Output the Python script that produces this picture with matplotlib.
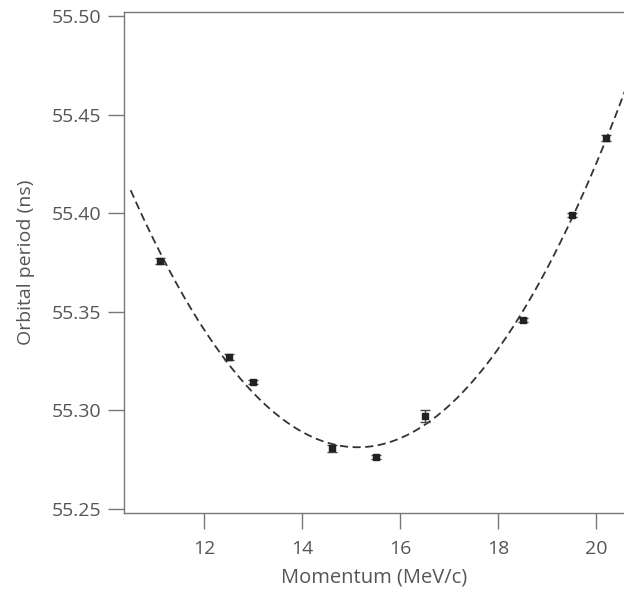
import matplotlib
matplotlib.use('Agg')
import matplotlib.pyplot as plt
import numpy as np

# Measured orbital period vs momentum
momentum = [11.1, 12.5, 13.0, 14.6, 15.5, 16.5, 18.5, 19.5, 20.2]
period = [55.3758, 55.3271, 55.3144, 55.2809, 55.2764, 55.2972, 55.3458, 55.3991, 55.4381]
period_err = [0.0015, 0.0015, 0.0012, 0.0018, 0.0010, 0.0030, 0.0012, 0.0012, 0.0015]

x_ticks = [12, 14, 16, 18, 20]
y_ticks = [55.25, 55.30, 55.35, 55.40, 55.45, 55.50]

text_color = '#555555'
axis_color = '#777777'

plt.rcParams['font.family'] = ['Open Sans', 'DejaVu Sans']

fig = plt.figure(figsize=(6.24, 5.92), dpi=100)
ax = fig.add_axes([0.1987, 0.1334, 0.8030, 0.8463])

# Quadratic fit to the measured points (dashed curve)
coef = np.polyfit(momentum, period, 2)
x_fit = np.linspace(10.5, 20.7, 200)
ax.plot(x_fit, np.polyval(coef, x_fit), linestyle=(0, (4.5, 2.5)), color='#333333', linewidth=1.3)

ax.errorbar(momentum, period, yerr=period_err, fmt='s', color='#222222', markersize=4,
            ecolor='#444444', elinewidth=1, capsize=3.5, capthick=1)

ax.set_xlim(10.364, 20.59)
ax.set_ylim(55.248, 55.502)
ax.set_xticks(x_ticks)
ax.set_yticks(y_ticks)
ax.set_yticklabels([f'{v:.2f}' for v in y_ticks])

for side in ['left', 'bottom', 'top', 'right']:
    ax.spines[side].set_color(axis_color)
    ax.spines[side].set_linewidth(1.0)

ax.tick_params(axis='both', direction='out', length=11.5, width=1.0, color=axis_color,
               labelcolor=text_color, labelsize=14)
ax.tick_params(axis='x', pad=8)
ax.tick_params(axis='y', pad=5)

ax.set_xlabel('Momentum (MeV/c)', color=text_color, fontsize=14.5, labelpad=7)
ax.set_ylabel('Orbital period (ns)', color=text_color, fontsize=14, labelpad=12)

plt.savefig('out.png', dpi=100)
plt.close()
